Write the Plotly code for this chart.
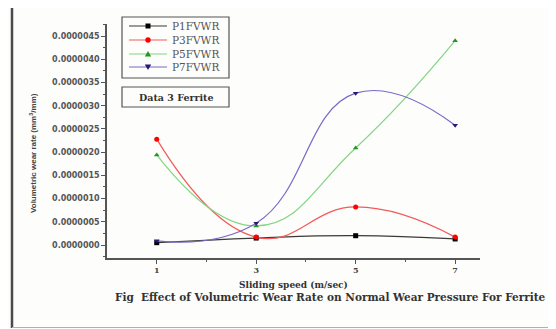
import plotly.graph_objects as go

# ---- data ----
speeds = [1, 3, 5, 7]
series_names = ["P1FVWR", "P3FVWR", "P5FVWR", "P7FVWR"]
p1_values = [0.05e-6, 0.15e-6, 0.20e-6, 0.13e-6]
p3_values = [2.28e-6, 0.17e-6, 0.82e-6, 0.17e-6]
p5_values = [1.94e-6, 0.41e-6, 2.09e-6, 4.40e-6]
p7_values = [0.09e-6, 0.47e-6, 3.27e-6, 2.58e-6]
y_tick_values = [0, 0.5e-6, 1.0e-6, 1.5e-6, 2.0e-6, 2.5e-6, 3.0e-6, 3.5e-6, 4.0e-6, 4.5e-6]
x_tick_values = [1, 3, 5, 7]

all_values = [p1_values, p3_values, p5_values, p7_values]
line_colors = ["#3a3a3a", "#f25a5a", "#84d484", "#7a68c8"]
marker_colors = ["#000000", "#ff0000", "#1f9a1f", "#2a1878"]
marker_symbols = ["square", "circle", "triangle-up", "triangle-down"]

# page offset (default body margin of the html page)
OFF = 8
W, H = 556 - OFF, 329 - OFF
L, R, T, B = 107 - OFF, 76, 24 - OFF, 71
PW, PH = W - L - R, H - T - B


def px(x):
    # reference pixel x -> paper coordinate
    return (x - OFF - L) / PW


def py(y):
    # reference pixel y -> paper coordinate
    return (H - B - (y - OFF)) / PH


fig = go.Figure()
for name, vals, lc, mc, sym in zip(series_names, all_values, line_colors, marker_colors, marker_symbols):
    fig.add_trace(go.Scatter(
        x=speeds, y=vals, name=name, mode="lines+markers",
        line=dict(color=lc, width=1.2, shape="spline", smoothing=1.3),
        marker=dict(color=mc, symbol=sym, size=5),
        showlegend=False,
    ))

serif = "DejaVu Serif"
sans = "DejaVu Sans"

shapes = []
annotations = []

# outer frame
shapes.append(dict(type="line", xref="paper", yref="paper", x0=px(12), x1=px(12), y0=py(4), y1=py(328),
                   line=dict(color="#4a4a4a", width=2.5)))
shapes.append(dict(type="line", xref="paper", yref="paper", x0=px(11), x1=px(556), y0=py(5), y1=py(5),
                   line=dict(color="#4a4a4a", width=2.5)))
shapes.append(dict(type="line", xref="paper", yref="paper", x0=px(554.5), x1=px(554.5), y0=py(5), y1=py(328),
                   line=dict(color="#b0b0b0", width=1)))
shapes.append(dict(type="line", xref="paper", yref="paper", x0=px(12), x1=px(556), y0=py(327.5), y1=py(327.5),
                   line=dict(color="#b0b0b0", width=1)))

# custom legend box
shapes.append(dict(type="rect", xref="paper", yref="paper", x0=px(122), x1=px(229), y0=py(17), y1=py(78),
                   line=dict(color="#555555", width=1.2), fillcolor="rgba(0,0,0,0)"))
rows = [26, 40, 54, 67]
for name, lc, mc, sym, ry in zip(series_names, line_colors, marker_colors, marker_symbols, rows):
    shapes.append(dict(type="line", xref="paper", yref="paper", x0=px(129), x1=px(167), y0=py(ry), y1=py(ry),
                       line=dict(color=lc, width=1.2)))
    cx = 148
    if sym == "square":
        shapes.append(dict(type="rect", xref="paper", yref="paper", x0=px(cx - 2.5), x1=px(cx + 2.5),
                           y0=py(ry - 2.5), y1=py(ry + 2.5), line=dict(width=0), fillcolor=mc))
    elif sym == "circle":
        shapes.append(dict(type="circle", xref="paper", yref="paper", x0=px(cx - 2.7), x1=px(cx + 2.7),
                           y0=py(ry - 2.7), y1=py(ry + 2.7), line=dict(width=0), fillcolor=mc))
    elif sym == "triangle-up":
        path = "M %f %f L %f %f L %f %f Z" % (px(cx - 3.2), py(ry + 2.5), px(cx + 3.2), py(ry + 2.5), px(cx), py(ry - 3))
        shapes.append(dict(type="path", xref="paper", yref="paper", path=path, line=dict(width=0), fillcolor=mc))
    else:
        path = "M %f %f L %f %f L %f %f Z" % (px(cx - 3.2), py(ry - 2.5), px(cx + 3.2), py(ry - 2.5), px(cx), py(ry + 3))
        shapes.append(dict(type="path", xref="paper", yref="paper", path=path, line=dict(width=0), fillcolor=mc))
    annotations.append(dict(xref="paper", yref="paper", x=px(170), y=py(ry), xanchor="left", yanchor="middle",
                            text=name, showarrow=False, font=dict(family=serif, size=10.5, color="#555555")))

# Data 3 Ferrite box
shapes.append(dict(type="rect", xref="paper", yref="paper", x0=px(122), x1=px(229), y0=py(87), y1=py(107),
                   line=dict(color="#555555", width=1.2), fillcolor="rgba(0,0,0,0)"))
annotations.append(dict(xref="paper", yref="paper", x=px(175.5), y=py(97), xanchor="center", yanchor="middle",
                        text="Data 3 Ferrite", showarrow=False,
                        font=dict(family=serif, size=9.5, color="#333333", weight="bold")))

# axis titles and caption
annotations.append(dict(xref="paper", yref="paper", x=px(293), y=py(285), xanchor="center", yanchor="middle",
                        text="Sliding speed (m/sec)", showarrow=False,
                        font=dict(family=serif, size=9, color="#333333", weight="bold")))
annotations.append(dict(xref="paper", yref="paper", x=px(330), y=py(297), xanchor="center", yanchor="middle",
                        text="Fig  Effect of Volumetric Wear Rate on Normal Wear Pressure For Ferrite", showarrow=False,
                        font=dict(family=serif, size=10.5, color="#333333", weight="bold")))
annotations.append(dict(xref="paper", yref="paper", x=px(33), y=py(153), xanchor="center", yanchor="middle",
                        text="Volumetric wear rate (mm<sup>3</sup>/mm)", showarrow=False, textangle=-90,
                        font=dict(family="Liberation Sans", size=8, color="#444444", weight="bold")))

fig.update_layout(
    width=W, height=H,
    margin=dict(l=L, r=R, t=T, b=B),
    paper_bgcolor="#fdfdfb", plot_bgcolor="#fdfdfb",
    shapes=shapes, annotations=annotations,
    showlegend=False,
    xaxis=dict(range=[0, 7.5], tickvals=x_tick_values, ticks="outside", ticklen=4, tickwidth=1,
               tickcolor="#555555", showline=True, linecolor="#555555", linewidth=1.5,
               showgrid=False, zeroline=False,
               minor=dict(tickvals=[2, 4, 6], ticks="outside", ticklen=2, tickcolor="#555555"),
               tickfont=dict(family=serif, size=8, color="#444444", weight="bold")),
    yaxis=dict(range=[-0.28e-6, 4.76e-6], tickvals=y_tick_values, tickformat=".7f", ticks="outside",
               ticklen=4, tickwidth=1, tickcolor="#555555", showline=True, linecolor="#555555",
               linewidth=1.5, showgrid=False, zeroline=False,
               minor=dict(dtick=0.25e-6, ticks="outside", ticklen=2, tickcolor="#555555"),
               tickfont=dict(family=sans, size=8, color="#555555", weight="bold")),
)

fig.write_html("out.html")
